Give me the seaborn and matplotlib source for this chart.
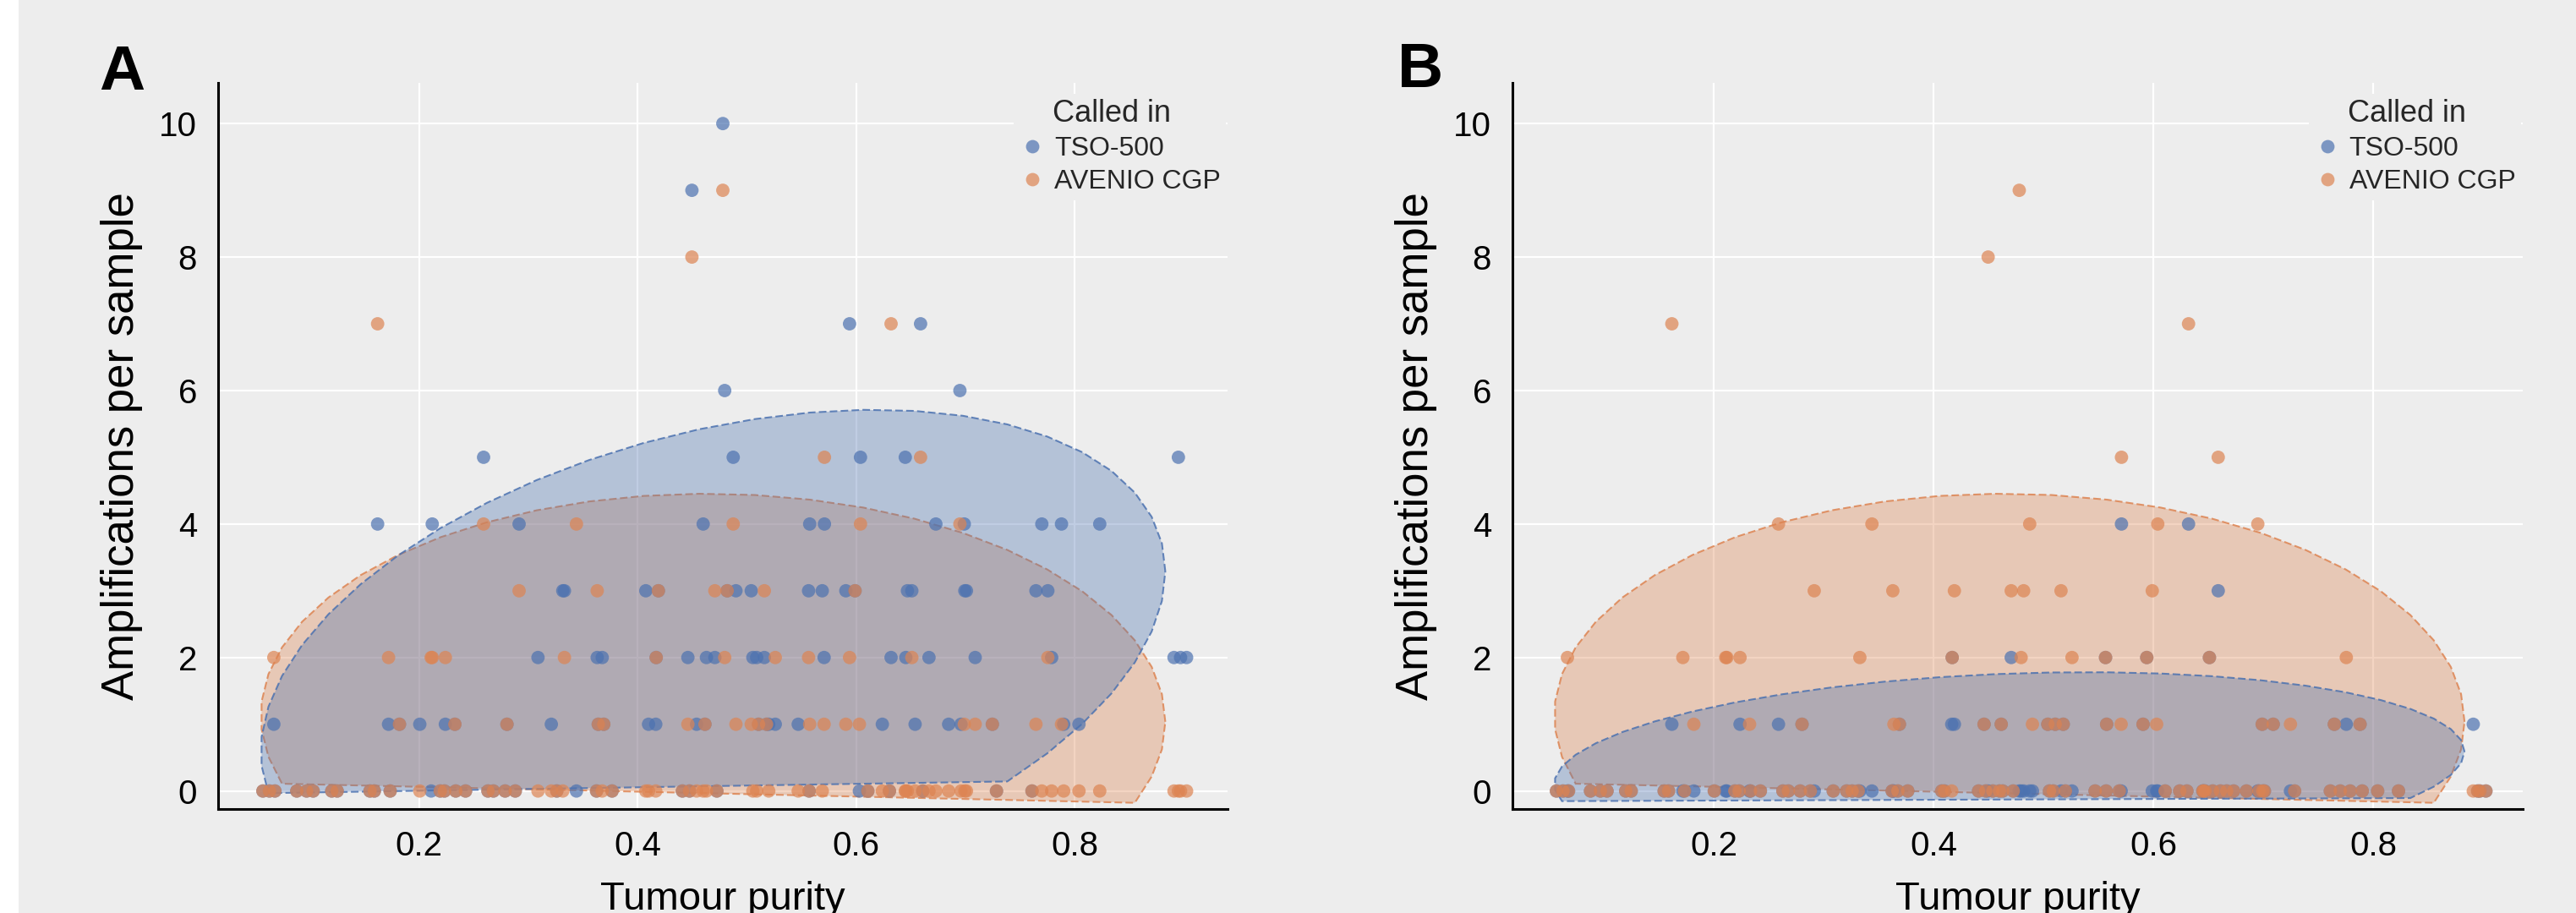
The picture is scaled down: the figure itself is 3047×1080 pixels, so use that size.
import numpy as np
import pandas as pd
import matplotlib
matplotlib.use("Agg")
import matplotlib.pyplot as plt
import matplotlib.transforms as mtransforms
from matplotlib.colors import to_rgba
from matplotlib.patches import Rectangle
import seaborn as sns

# ---------------- data ----------------
# one entry per sample: tumour purity, AVENIO CGP count,
# TSO-500 count in panel A, TSO-500 count in panel B
purity = [0.057, 0.063, 0.068, 0.088, 0.097, 0.103, 0.120, 0.125, 0.155, 0.159,
          0.1735, 0.2006, 0.2193, 0.2232, 0.2335, 0.2425, 0.263, 0.268, 0.2787, 0.288,
          0.3088, 0.321, 0.326, 0.3315, 0.3624, 0.3676, 0.3766, 0.4075, 0.410, 0.4166,
          0.441, 0.4475, 0.454, 0.460, 0.463, 0.4725, 0.5055, 0.509, 0.520, 0.547,
          0.557, 0.569, 0.6107, 0.624, 0.6305, 0.645, 0.6455, 0.647, 0.654, 0.661,
          0.6667, 0.673, 0.6847, 0.696, 0.6995, 0.701, 0.7285, 0.761, 0.770, 0.779,
          0.790, 0.804, 0.823, 0.891, 0.895, 0.897, 0.9025,
          0.182, 0.2327, 0.2804, 0.364, 0.369, 0.446, 0.4616, 0.490, 0.504, 0.5107,
          0.518, 0.5575, 0.5707, 0.5906, 0.603, 0.699, 0.709, 0.7247, 0.7646, 0.788,
          0.067, 0.172, 0.212, 0.211, 0.224, 0.333, 0.417, 0.4797, 0.526, 0.5565,
          0.594, 0.651, 0.7755,
          0.2915, 0.363, 0.419, 0.4707, 0.482, 0.516, 0.599,
          0.259, 0.344, 0.4875, 0.604, 0.695,
          0.571, 0.659, 0.162, 0.632, 0.4497, 0.478]

avenio = [0] * 67 + [1] * 20 + [2] * 13 + [3] * 7 + [4] * 5 + [5, 5, 7, 7, 8, 9]

tso_a = [0, 0, 0, 0, 0, 0, 0, 0, 0, 0,
         0, 1, 0, 0, 0, 0, 0, 0, 0, 0,
         2, 1, 0, 3, 0, 2, 0, 3, 1, 1,
         0, 0, 1, 4, 2, 0, 2, 2, 1, 1,
         0, 3, 0, 1, 0, 5, 2, 3, 1, 0,
         2, 4, 1, 1, 3, 3, 0, 0, 4, 2,
         1, 1, 4, 2, 5, 2, 2,
         1, 1, 1, 1, 1, 2, 1, 3, 3, 1,
         1, 4, 2, 3, 0, 4, 2, 1, 3, 4,
         1, 1, 4, 0, 1, 3, 2, 6, 1, 3,
         7, 3, 3,
         4, 2, 3, 2, 3, 2, 3,
         5, 0, 5, 5, 6,
         4, 7, 4, 2, 9, 10]

tso_b = [0, 0, 0, 0, 0, 0, 0, 0, 0, 0,
         0, 0, 0, 0, 0, 0, 0, 0, 0, 0,
         0, 0, 0, 0, 0, 0, 0, 0, 0, 1,
         0, 0, 0, 0, 0, 0, 0, 0, 0, 0,
         0, 0, 0, 0, 0, 0, 0, 0, 0, 0,
         0, 0, 0, 0, 0, 0, 0, 0, 0, 0,
         0, 0, 0, 1, 0, 0, 0,
         0, 0, 1, 0, 1, 1, 1, 0, 1, 1,
         1, 1, 0, 1, 0, 1, 1, 0, 1, 1,
         0, 0, 0, 0, 1, 0, 2, 0, 0, 2,
         2, 2, 1,
         0, 0, 1, 2, 0, 0, 0,
         1, 0, 0, 0, 0,
         4, 3, 1, 4, 0, 0]

assays = ["TSO-500", "AVENIO CGP"]
panels = ["A", "B"]
x_ticks = [0.2, 0.4, 0.6, 0.8]
y_ticks = [0, 2, 4, 6, 8, 10]

# ---------------- style ----------------
colors = {"TSO-500": "#4C72B0", "AVENIO CGP": "#DD8452"}
BG = "#EDEDED"
ELLIPSE_LEVEL = 0.83
Y_CUT = -0.25


def ellipse_points(x, y, level=ELLIPSE_LEVEL, segments=51):
    X = np.column_stack([x, y]).astype(float)
    n = len(X)
    center = X.mean(axis=0)
    shape = np.cov(X, rowvar=False)
    d2 = n - 1
    qf = d2 / 2.0 * ((1 - level) ** (-2.0 / d2) - 1)   # F(2, d2) quantile
    radius = np.sqrt(2 * qf)
    ang = np.arange(segments + 1) * 2 * np.pi / segments
    circ = np.column_stack([np.cos(ang), np.sin(ang)])
    L = np.linalg.cholesky(shape)
    return center + radius * (circ @ L.T)


sns.set_theme(style="whitegrid")
plt.rcParams["font.family"] = ["Liberation Sans", "DejaVu Sans"]

fig = plt.figure(figsize=(30.47, 10.8), dpi=100, facecolor="white")
fig.patches.append(Rectangle((22 / 3047, 0), 1 - 22 / 3047, 1, transform=fig.transFigure,
                             facecolor=BG, edgecolor="none", zorder=-10))

axes_rects = [[258 / 3047, 1 - 957 / 1080, 1194 / 3047, 859 / 1080],
              [1789 / 3047, 1 - 957 / 1080, 1195 / 3047, 859 / 1080]]
xlims = [(0.016, 0.940), (0.017, 0.936)]
letter_pos = [(117, 106), (1653, 103)]
tso_sets = [tso_a, tso_b]

for k, panel in enumerate(panels):
    ax = fig.add_axes(axes_rects[k])
    ax.set_facecolor(BG)
    df = pd.DataFrame({
        "purity": list(purity) + list(purity),
        "amps": list(tso_sets[k]) + list(avenio),
        "Called in": ["TSO-500"] * len(purity) + ["AVENIO CGP"] * len(purity),
    })

    # confidence ellipses (AVENIO first, TSO-500 drawn on top)
    for assay in ["AVENIO CGP", "TSO-500"]:
        sub = df[df["Called in"] == assay]
        pts = ellipse_points(sub["purity"].values, sub["amps"].values)
        pts = pts[pts[:, 1] >= Y_CUT]
        c = colors[assay]
        ax.fill(pts[:, 0], pts[:, 1], facecolor=to_rgba(c, 0.35),
                edgecolor=to_rgba(c, 0.85), linewidth=1.5,
                linestyle=(0, (4.3, 1.9)), zorder=2)

    sns.scatterplot(data=df, x="purity", y="amps", hue="Called in",
                    hue_order=assays, palette=colors, s=130, alpha=0.7,
                    edgecolor="none", linewidth=0, ax=ax, zorder=3)

    ax.set_xlim(*xlims[k])
    ax.set_ylim(-0.27, 10.61)
    ax.set_xticks(x_ticks)
    ax.set_xticklabels([f"{t:.1f}" for t in x_ticks])
    ax.set_yticks(y_ticks)
    ax.set_yticklabels([str(t) for t in y_ticks])
    ax.grid(True, color="white", linewidth=1.6)
    ax.set_axisbelow(True)
    for s in ["top", "right"]:
        ax.spines[s].set_visible(False)
    for s in ["left", "bottom"]:
        ax.spines[s].set_visible(True)
        ax.spines[s].set_color("black")
        ax.spines[s].set_linewidth(2.2)
    ax.tick_params(axis="both", length=0, pad=18, labelsize=29, colors="black")
    ax.set_xlabel("Tumour purity", fontsize=34, labelpad=16, color="black")
    ax.set_ylabel("Amplifications per sample", fontsize=38, labelpad=14, color="black")

    handles, labels = ax.get_legend_handles_labels()
    leg = ax.legend(handles, labels, title="Called in", loc="upper left",
                    bbox_to_anchor=(0.788, 0.985), borderaxespad=0,
                    fontsize=23, title_fontsize=26, frameon=True,
                    facecolor=BG, edgecolor="none", framealpha=1,
                    handlelength=1.0, handletextpad=0.3, labelspacing=0.28,
                    borderpad=0.2, markerscale=1.0)
    leg._legend_box.align = "left"
    for h in leg.legend_handles:
        h.set_alpha(0.7)
    title = leg.get_title()
    title.set_transform(title.get_transform() + mtransforms.Affine2D().translate(40, 0))
    leg.set_zorder(5)

    lx, ly = letter_pos[k]
    fig.text(lx / 3047, 1 - ly / 1080, panel, ha="left", va="baseline",
             fontsize=54, fontweight="bold", color="black")

fig.savefig("out.png", dpi=100, facecolor=fig.get_facecolor())
